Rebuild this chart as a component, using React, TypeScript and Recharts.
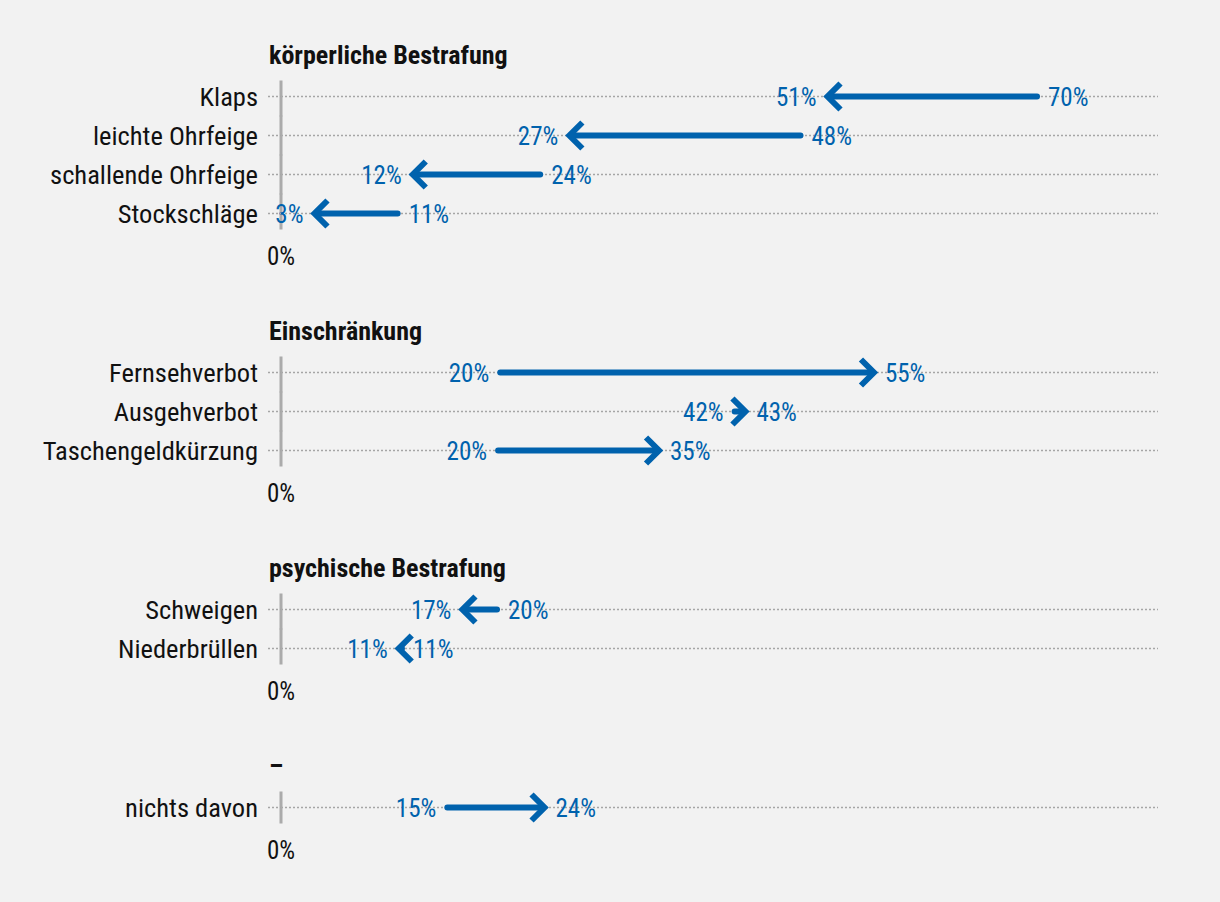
import React from 'react';
import { ComposedChart, Bar, XAxis, YAxis } from 'recharts';

const BLUE = '#0062ad';
const TEXT = '#111111';
const GRID = '#a6a6a6';
const AXIS_GRAY = '#ababab';
const FONT = '"Roboto Condensed", Roboto, "Noto Sans", sans-serif';
const CAT_SIZE = 26.5;
const TITLE_SIZE = 26;
const VALUE_SIZE = 25;
const TICK_SIZE = 25;

// ---- data ----
const koerperTitle = 'körperliche Bestrafung';
const koerperCategories = ['Klaps', 'leichte Ohrfeige', 'schallende Ohrfeige', 'Stockschläge'];
const koerperFrom = [70, 48.1, 24, 10.8];
const koerperTo = [50.6, 26.7, 12.2, 3.1];

const einschrTitle = 'Einschränkung';
const einschrCategories = ['Fernsehverbot', 'Ausgehverbot', 'Taschengeldkürzung'];
const einschrFrom = [20.3, 42, 20.1];
const einschrTo = [54.9, 43, 35];

const psychTitle = 'psychische Bestrafung';
const psychCategories = ['Schweigen', 'Niederbrüllen'];
const psychFrom = [20, 11.2];
const psychTo = [16.8, 10.9];

const otherTitle = '–';
const otherCategories = ['nichts davon'];
const otherFrom = [15.4];
const otherTo = [24.4];

const xTicks = [0];
const X_MAX = 81.2;

// ---- layout ----
const ROW_H = 39;
const PANEL_GAP = 120;
const FIRST_PLOT_TOP = 76.5;
const TOP_PAD = 60;
const AXIS_H = 40;
const Y_AXIS_W = 281;
const RIGHT_MARGIN = 62;

const build = (cats: string[], from: number[], to: number[]) =>
  cats.map((name, i) => ({ name, from: from[i], to: to[i] }));

const panels = [
  { title: koerperTitle, data: build(koerperCategories, koerperFrom, koerperTo) },
  { title: einschrTitle, data: build(einschrCategories, einschrFrom, einschrTo) },
  { title: psychTitle, data: build(psychCategories, psychFrom, psychTo) },
  { title: otherTitle, data: build(otherCategories, otherFrom, otherTo) },
];

const pct = (v: number) => `${Math.round(v)}%`;

function RowBackground(props: any) {
  const { x, y, width, height, index, count } = props;
  if (x == null || y == null) return null;
  const cy = y + height / 2;
  const top = index === 0 ? y + 3.5 : y - 0.5;
  const bottom = index === count - 1 ? y + height - 3.5 : y + height + 0.5;
  return (
    <g>
      <line x1={x} y1={cy} x2={x + width} y2={cy} stroke={GRID} strokeWidth={1.5} strokeDasharray="2 2" />
      <line x1={x} y1={top} x2={x} y2={bottom} stroke={AXIS_GRAY} strokeWidth={3} />
    </g>
  );
}

function ArrowShape(props: any) {
  const { x, y, width, height, payload } = props;
  if (x == null || y == null || !payload) return null;
  const cy = y + height / 2;
  const a = x;
  const b = x + width;
  const inc = payload.to >= payload.from;
  const dir = inc ? 1 : -1;
  const tail = inc ? Math.min(a, b) : Math.max(a, b);
  const tip = inc ? Math.max(a, b) : Math.min(a, b);
  const H = 13;
  const lineEnd = tip - dir * 2;
  const showLine = (lineEnd - tail) * dir > 0.5;
  const textStyle = { fontFamily: FONT, fontSize: VALUE_SIZE, fontStretch: 'condensed' as any };
  return (
    <g>
      {showLine && (
        <line x1={tail} y1={cy} x2={lineEnd} y2={cy} stroke={BLUE} strokeWidth={6} strokeLinecap="round" />
      )}
      <polyline
        points={`${tip - dir * H},${cy - H} ${tip},${cy} ${tip - dir * H},${cy + H}`}
        fill="none"
        stroke={BLUE}
        strokeWidth={6}
        strokeLinejoin="miter"
        strokeLinecap="butt"
      />
      <text x={tail - dir * 11} y={cy} dy="0.36em" textAnchor={inc ? 'end' : 'start'} fill={BLUE} style={textStyle}>
        {pct(payload.from)}
      </text>
      <text x={tip + dir * 11} y={cy} dy="0.36em" textAnchor={inc ? 'start' : 'end'} fill={BLUE} style={textStyle}>
        {pct(payload.to)}
      </text>
    </g>
  );
}

function Panel({ title, data, top }: { title: string; data: any[]; top: number }) {
  const plotH = data.length * ROW_H;
  const h = TOP_PAD + plotH + AXIS_H;
  const catStyle = { fill: TEXT, fontSize: CAT_SIZE, fontFamily: FONT, fontStretch: 'condensed' };
  const xTickStyle = { fill: TEXT, fontSize: TICK_SIZE, fontFamily: FONT, fontStretch: 'condensed' };
  return (
    <div style={{ position: 'absolute', left: 0, top, width: 1220, height: h }}>
      <div
        style={{
          position: 'absolute',
          left: 269,
          top: TOP_PAD - 21.5 - 15,
          height: 30,
          lineHeight: '30px',
          fontFamily: FONT,
          fontStretch: 'condensed',
          fontWeight: 700,
          fontSize: TITLE_SIZE,
          color: TEXT,
          whiteSpace: 'nowrap',
        }}
      >
        {title}
      </div>
      <ComposedChart
        width={1220}
        height={h}
        data={data}
        layout="vertical"
        barCategoryGap={0}
        margin={{ top: TOP_PAD, right: RIGHT_MARGIN, bottom: 0, left: 0 }}
      >
        <XAxis
          type="number"
          domain={[0, X_MAX]}
          ticks={xTicks}
          tickFormatter={(v: number) => `${v}%`}
          axisLine={false}
          tickLine={false}
          height={AXIS_H}
          tickMargin={8}
          tick={xTickStyle}
        />
        <YAxis
          type="category"
          dataKey="name"
          width={Y_AXIS_W}
          interval={0}
          axisLine={false}
          tickLine={{ stroke: GRID, strokeDasharray: '2 2', strokeWidth: 1.5 }}
          tickSize={13}
          tickMargin={10}
          tick={catStyle}
        />
        <Bar
          dataKey={(d: any) => [d.from, d.to]}
          shape={ArrowShape}
          background={(p: any) => <RowBackground {...p} count={data.length} />}
          isAnimationActive={false}
        />
      </ComposedChart>
    </div>
  );
}

export default function App() {
  let plotTop = FIRST_PLOT_TOP;
  const items = panels.map((p, i) => {
    const top = plotTop - TOP_PAD;
    plotTop += p.data.length * ROW_H + PANEL_GAP;
    return <Panel key={i} title={p.title} data={p.data} top={top} />;
  });
  return (
    <div
      style={{
        position: 'absolute',
        left: 0,
        top: 0,
        width: 1220,
        height: 902,
        background: '#f2f2f2',
        overflow: 'hidden',
      }}
    >
      {items}
    </div>
  );
}
